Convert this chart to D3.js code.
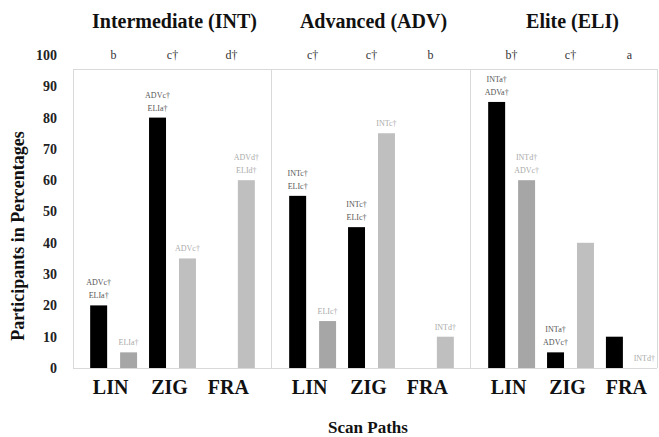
<!DOCTYPE html>
<html>
<head>
<meta charset="utf-8">
<script src="https://cdn.jsdelivr.net/npm/d3@7"></script>
<style>
  body { margin: 0; background: #fff; }
</style>
</head>
<body>
<script>
var groups = ["Intermediate (INT)", "Advanced (ADV)", "Elite (ELI)"]
var paths = ["LIN", "ZIG", "FRA"]
var yTicks = [0, 10, 20, 30, 40, 50, 60, 70, 80, 90, 100]

// participants in % per group, per scan path (first bar / second bar)
var firstBar  = [[20, 80, 0], [55, 45, 0], [85, 5, 10]]
var secondBar = [[5, 35, 60], [15, 75, 10], [60, 40, 0]]

// significance letters over each scan path
var letters = [["b", "c\u2020", "d\u2020"], ["c\u2020", "c\u2020", "b"], ["b\u2020", "c\u2020", "a"]]

// small notes above bars
var firstNotes = [
  [["ADVc\u2020", "ELIa\u2020"], ["ADVc\u2020", "ELIa\u2020"], []],
  [["INTc\u2020", "ELIc\u2020"], ["INTc\u2020", "ELIc\u2020"], []],
  [["INTa\u2020", "ADVa\u2020"], ["INTa\u2020", "ADVc\u2020"], []]
]
var secondNotes = [
  [["ELIa\u2020"], ["ADVc\u2020"], ["ADVd\u2020", "ELId\u2020"]],
  [["ELIc\u2020"], ["INTc\u2020"], ["INTd\u2020"]],
  [["INTd\u2020", "ADVc\u2020"], [], ["INTd\u2020"]]
]

var serif = "'Liberation Serif', 'Times New Roman', 'DejaVu Serif', serif"
var W = 659, H = 437
var plotLeft = 73, plotRight = 657, plotTop = 69, plotBottom = 368

var svg = d3.select("body").append("svg")
    .attr("width", W)
    .attr("height", H)
    .attr("font-family", serif)

var y = d3.scaleLinear().domain([0, 100]).range([plotBottom, 55])

// one band per group, each 199 wide
var xg = d3.scaleBand().domain(groups).range([plotLeft, plotLeft + 199 * 3])
var xc = d3.scaleBand().domain(paths).range([0, xg.bandwidth()]).paddingOuter(0.19)
var xs = d3.scaleBand().domain([0, 1]).range([0, xc.bandwidth()]).paddingInner(0.433).paddingOuter(0.2)

// frame
var frame = svg.append("g").attr("stroke", "#d9d9d9").attr("stroke-width", 1)
frame.append("line").attr("x1", plotLeft).attr("x2", plotRight).attr("y1", plotTop + 0.5).attr("y2", plotTop + 0.5)
frame.append("line").attr("x1", plotLeft).attr("x2", plotRight).attr("y1", plotBottom + 0.5).attr("y2", plotBottom + 0.5)
frame.append("line").attr("x1", plotLeft + 0.5).attr("x2", plotLeft + 0.5).attr("y1", plotTop).attr("y2", plotBottom)
frame.append("line").attr("x1", plotRight + 0.5).attr("x2", plotRight + 0.5).attr("y1", plotTop).attr("y2", plotBottom)
frame.selectAll(".sep").data(groups.slice(1)).enter().append("line")
    .attr("x1", function(d) { return xg(d) - 0.5 }).attr("x2", function(d) { return xg(d) - 0.5 })
    .attr("y1", plotTop).attr("y2", plotBottom)

// y tick labels
svg.append("g").selectAll("text").data(yTicks).enter().append("text")
    .attr("x", 57)
    .attr("y", function(d) { return y(d) })
    .attr("dy", "0.35em")
    .attr("text-anchor", "end")
    .attr("font-size", 14)
    .attr("font-weight", "bold")
    .attr("fill", "#222")
    .text(function(d) { return d })

var secondColor = ["#a6a6a6", "#bfbfbf", "#bfbfbf"]

groups.forEach(function(g, gi) {
  var gx = xg(g)

  svg.append("text")
      .attr("x", gx + xg.bandwidth() / 2 + 2)
      .attr("y", 28)
      .attr("text-anchor", "middle")
      .attr("font-size", 20)
      .attr("font-weight", "bold")
      .attr("fill", "#111")
      .text(g)

  var cat = svg.append("g").selectAll("g").data(paths).enter().append("g")
      .attr("transform", function(p) { return "translate(" + (gx + xc(p)) + ",0)" })

  // first bar (black)
  cat.append("rect")
      .attr("x", xs(0))
      .attr("width", xs.bandwidth())
      .attr("y", function(p, i) { return y(firstBar[gi][i]) })
      .attr("height", function(p, i) { return y(0) - y(firstBar[gi][i]) })
      .attr("fill", "#000")

  // second bar (gray)
  cat.append("rect")
      .attr("x", xs(1))
      .attr("width", xs.bandwidth())
      .attr("y", function(p, i) { return y(secondBar[gi][i]) })
      .attr("height", function(p, i) { return y(0) - y(secondBar[gi][i]) })
      .attr("fill", function(p, i) { return secondColor[i] })

  // notes above bars
  cat.each(function(p, i) {
    var c = d3.select(this)
    var n1 = firstNotes[gi][i], n2 = secondNotes[gi][i]
    n1.forEach(function(t, k) {
      c.append("text")
          .attr("x", xs(0) + xs.bandwidth() / 2)
          .attr("y", y(firstBar[gi][i]) - 7 - (n1.length - 1 - k) * 13)
          .attr("text-anchor", "middle")
          .attr("font-size", 8)
          .attr("fill", "#555")
          .text(t)
    })
    n2.forEach(function(t, k) {
      c.append("text")
          .attr("x", xs(1) + xs.bandwidth() / 2)
          .attr("y", y(secondBar[gi][i]) - 7 - (n2.length - 1 - k) * 13)
          .attr("text-anchor", "middle")
          .attr("font-size", 8)
          .attr("fill", "#aaa")
          .text(t)
    })
  })

  // significance letters
  cat.append("text")
      .attr("x", xc.bandwidth() / 2)
      .attr("y", y(100))
      .attr("dy", "0.35em")
      .attr("text-anchor", "middle")
      .attr("font-size", 12)
      .attr("fill", "#333")
      .text(function(p, i) { return letters[gi][i] })

  // scan path labels
  cat.append("text")
      .attr("x", xc.bandwidth() / 2 - 3)
      .attr("y", 394)
      .attr("text-anchor", "middle")
      .attr("font-size", 20)
      .attr("font-weight", "bold")
      .attr("fill", "#111")
      .text(function(p) { return p })
})

// axis titles
svg.append("text")
    .attr("transform", "translate(24," + 236 + ") rotate(-90)")
    .attr("text-anchor", "middle")
    .attr("font-size", 18)
    .attr("font-weight", "bold")
    .attr("fill", "#111")
    .text("Participants in Percentages")

svg.append("text")
    .attr("x", 368)
    .attr("y", 433)
    .attr("text-anchor", "middle")
    .attr("font-size", 17)
    .attr("font-weight", "bold")
    .attr("fill", "#111")
    .text("Scan Paths")
</script>
</body>
</html>
